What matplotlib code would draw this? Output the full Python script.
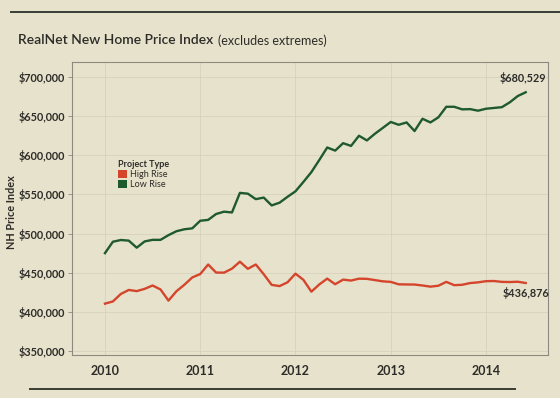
import matplotlib
matplotlib.use("Agg")
import matplotlib.pyplot as plt
from matplotlib.patches import Patch
from matplotlib.lines import Line2D

plt.rcParams['font.family'] = ['Lato', 'DejaVu Sans']

# Monthly index values, Jan 2010 .. Jun 2014 (in dollars)
start_year = 2010
low_rise = [475000, 489600, 491800, 491000, 482000, 490000, 492000, 492000, 498000, 503000,
            505500, 506700, 516400, 517500, 525000, 528000, 527000, 552000, 551000, 544000,
            546000, 536000, 539500, 547000, 554000, 566000, 578500, 594000, 610000, 606000,
            615500, 612000, 625000, 619000, 627500, 635000, 642600, 639000, 642000, 631000,
            646700, 642000, 648500, 662000, 662000, 658700, 659000, 657000, 659500, 660500,
            661500, 667700, 675700, 680529]
high_rise = [410500, 413300, 422900, 428000, 426500, 429400, 433700, 428600, 414400, 426300,
             434600, 444000, 448300, 460500, 450200, 450100, 455200, 464100, 455000, 460500,
             448100, 434500, 432900, 437800, 448800, 440900, 425800, 435000, 442500, 435300,
             441200, 440000, 442400, 442200, 440600, 439000, 438300, 435200, 435000, 434900,
             433700, 432200, 433400, 438300, 434100, 434600, 436800, 437700, 439200, 439400,
             438300, 438100, 438500, 436876]
series_names = ["High Rise", "Low Rise"]
year_ticks = [2010, 2011, 2012, 2013, 2014]
y_ticks = [350000, 400000, 450000, 500000, 550000, 600000, 650000, 700000]

bg = "#e6e2cc"
red = "#d4452b"
green = "#1f5a2c"
text_col = "#2e2c28"

W, H = 560, 398
fig = plt.figure(figsize=(W / 100, H / 100), dpi=100, facecolor=bg)
ax = fig.add_axes([72 / W, 1 - 355 / H, 476 / W, 293 / H], facecolor=bg)

x = [start_year + i / 12 for i in range(len(low_rise))]
ax.plot(x, high_rise, color=red, lw=1.7, solid_joinstyle='round')
ax.plot(x, low_rise, color=green, lw=1.7, solid_joinstyle='round')

ax.set_xlim(2009.654, 2014.651)
ax.set_ylim(344900, 719200)
ax.set_xticks(year_ticks)
ax.set_xticklabels([str(y) for y in year_ticks])
ax.set_yticks(y_ticks)
ax.set_yticklabels([f"${v:,.0f}" for v in y_ticks])
ax.grid(True, color="#d3cfbc", lw=0.5)
ax.set_axisbelow(True)
for s in ax.spines.values():
    s.set_color("#8c8a80")
    s.set_linewidth(0.8)
ax.tick_params(axis='y', length=3, width=0.6, color="#8c8a80", pad=2,
               labelsize=7.8, labelcolor=text_col)
ax.tick_params(axis='x', length=0, pad=7, labelsize=9, labelcolor=text_col)
for lab in ax.get_xticklabels() + ax.get_yticklabels():
    lab.set_fontweight('bold')

# end labels
ax.annotate(f"${low_rise[-1]:,.0f}", (x[-1], low_rise[-1]), xytext=(-2, 6),
            textcoords='offset points', ha='center', va='bottom',
            fontsize=7.8, fontweight='bold', color=text_col, annotation_clip=False)
ax.annotate(f"${high_rise[-1]:,.0f}", (x[-1], high_rise[-1]), xytext=(0, -3),
            textcoords='offset points', ha='center', va='top',
            fontsize=7.8, fontweight='bold', color=text_col, annotation_clip=False)

# legend
handles = [Patch(facecolor=red, edgecolor='none'), Patch(facecolor=green, edgecolor='none')]
leg = ax.legend(handles, series_names, title="Project Type", loc='upper left',
                bbox_to_anchor=(113 / W, 1 - 155 / H), bbox_transform=fig.transFigure,
                frameon=False, fontsize=6.5, title_fontsize=6.5, handlelength=1.0,
                handleheight=1.0, handletextpad=0.4, labelspacing=0.15,
                borderpad=0, alignment='left')
leg.get_title().set_fontweight('bold')
leg.get_title().set_color(text_col)
for t in leg.get_texts():
    t.set_color(text_col)

# titles
title = fig.text(18 / W, 1 - 40 / H, "RealNet New Home Price Index", fontsize=10,
                 fontweight='semibold', color=text_col, va='center', ha='left')
fig.canvas.draw()
bb = title.get_window_extent()
fig.text((bb.x1 + 5) / W, 1 - 41 / H, "(excludes extremes)", fontsize=9,
         color=text_col, va='center', ha='left')
fig.text(12 / W, 1 - 212 / H, "NH Price Index", rotation=90, fontsize=7.8,
         fontweight='bold', color=text_col, va='center', ha='center')

# decorative rules
fig.add_artist(Line2D([0.02, 1.0], [1 - 12 / H, 1 - 12 / H], color="#3a3d33", lw=1.4,
                      transform=fig.transFigure))
fig.add_artist(Line2D([30 / W, 515 / W], [1 - 389 / H, 1 - 389 / H], color="#3a3d33", lw=1.4,
                      transform=fig.transFigure))

fig.savefig("out.png", dpi=100, facecolor=bg)
